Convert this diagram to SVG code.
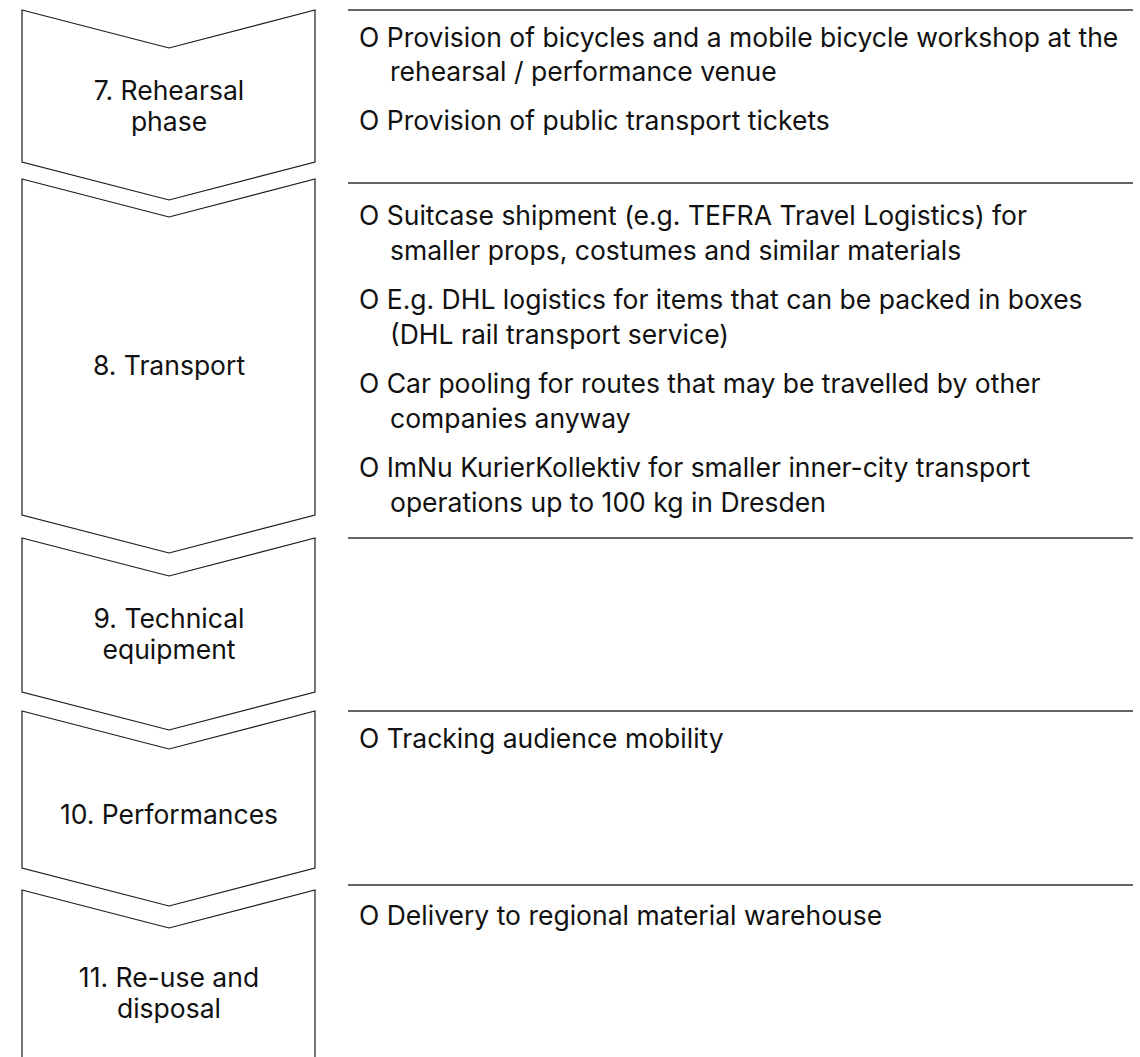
<svg xmlns="http://www.w3.org/2000/svg" width="1140" height="1057" viewBox="0 0 1140 1057">
  <style>
    .step { fill: #ffffff; stroke: #1a1a1a; stroke-width: 1.2; stroke-linejoin: miter; }
    .rule { stroke: #333333; stroke-width: 1.3; fill: none; }
    .label { font-family: Inter, "Liberation Sans", sans-serif; font-size: 26.5px; fill: #111111; text-anchor: middle; }
    .item { font-family: Inter, "Liberation Sans", sans-serif; font-size: 26.5px; fill: #111111; }
  </style>

  <!-- phase chevrons -->
  <g id="step-7">
    <path class="step" d="M22,10 L169,48 L315,10 L315,162 L169,200 L22,162 Z"/>
    <text class="label" x="169" y="100">7. Rehearsal</text>
    <text class="label" x="169" y="131">phase</text>
  </g>
  <g id="step-8">
    <path class="step" d="M22,179 L169,217 L315,179 L315,515 L169,553 L22,515 Z"/>
    <text class="label" x="169" y="375">8. Transport</text>
  </g>
  <g id="step-9">
    <path class="step" d="M22,538 L169,576 L315,538 L315,692 L169,730 L22,692 Z"/>
    <text class="label" x="169" y="628">9. Technical</text>
    <text class="label" x="169" y="659">equipment</text>
  </g>
  <g id="step-10">
    <path class="step" d="M22,711 L169,749 L315,711 L315,868 L169,906 L22,868 Z"/>
    <text class="label" x="169" y="824">10. Performances</text>
  </g>
  <g id="step-11">
    <path class="step" d="M22,890 L169,928 L315,890 L315,1070 L22,1070 Z"/>
    <text class="label" x="169" y="987">11. Re-use and</text>
    <text class="label" x="169" y="1018">disposal</text>
  </g>

  <!-- separator rules -->
  <g id="connectors">
    <line class="rule" x1="348" y1="10" x2="1133" y2="10"/>
    <line class="rule" x1="348" y1="183" x2="1133" y2="183"/>
    <line class="rule" x1="348" y1="538" x2="1133" y2="538"/>
    <line class="rule" x1="348" y1="711" x2="1133" y2="711"/>
    <line class="rule" x1="348" y1="885" x2="1133" y2="885"/>
  </g>

  <!-- measures per phase -->
  <g id="measures-7">
    <text class="item" x="359" y="47">O Provision of bicycles and a mobile bicycle workshop at the</text>
    <text class="item" x="390" y="81">rehearsal / performance venue</text>
    <text class="item" x="359" y="130">O Provision of public transport tickets</text>
  </g>
  <g id="measures-8">
    <text class="item" x="359" y="225">O Suitcase shipment (e.g. TEFRA Travel Logistics) for</text>
    <text class="item" x="390" y="260">smaller props, costumes and similar materials</text>
    <text class="item" x="359" y="309">O E.g. DHL logistics for items that can be packed in boxes</text>
    <text class="item" x="390" y="344">(DHL rail transport service)</text>
    <text class="item" x="359" y="393">O Car pooling for routes that may be travelled by other</text>
    <text class="item" x="390" y="428">companies anyway</text>
    <text class="item" x="359" y="477">O ImNu KurierKollektiv for smaller inner-city transport</text>
    <text class="item" x="390" y="512">operations up to 100 kg in Dresden</text>
  </g>
  <g id="measures-10">
    <text class="item" x="359" y="748">O Tracking audience mobility</text>
  </g>
  <g id="measures-11">
    <text class="item" x="359" y="925">O Delivery to regional material warehouse</text>
  </g>
</svg>
